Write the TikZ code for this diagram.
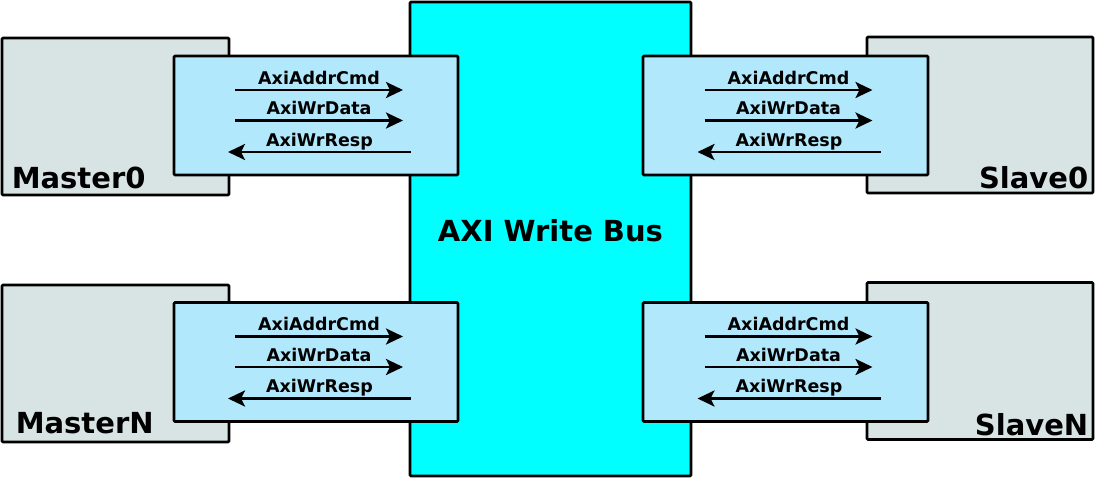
\documentclass[tikz,border=0pt]{standalone}
\usepackage{fontspec}
\setmainfont{DejaVu Sans}
\usetikzlibrary{arrows.meta}

\definecolor{hostgray}{RGB}{216,228,228}
\definecolor{portblue}{RGB}{178,232,252}
\definecolor{buscyan}{RGB}{0,255,255}

\tikzset{
  unit/.style={draw, line width=2.8pt, line join=round, rounded corners=1pt, inner sep=0pt},
  host/.style={unit, fill=hostgray},
  port/.style={unit, fill=portblue, minimum width=284, minimum height=119},
  sig/.style={line width=2.8pt, -{Stealth[length=17pt, width=16pt, inset=4pt]}},
  siglabel/.style={midway, above=4.5pt, inner sep=0pt, text depth=0pt, font=\bfseries\fontsize{17.5}{18}\selectfont},
  hostlabel/.style={inner sep=0pt, font=\bfseries\fontsize{29}{30}\selectfont}
}

\begin{document}
\begin{tikzpicture}[x=1pt, y=-1pt]
  \useasboundingbox (0,0) rectangle (1095,478);

  % hosts on both sides
  \node[host, minimum width=227, minimum height=157] (master0) at (115.5,116.5) {};
  \node[host, minimum width=227, minimum height=157] (masterN) at (115.5,363.5) {};
  \node[host, minimum width=226, minimum height=156] (slave0) at (980,115) {};
  \node[host, minimum width=226, minimum height=157] (slaveN) at (980,361) {};

  \node[hostlabel, anchor=base west] (master0txt) at ([shift={(11,-8)}]master0.south west) {Master0};
  \node[hostlabel, anchor=base west] (masterNtxt) at ([shift={(15,-10)}]masterN.south west) {MasterN};
  \node[hostlabel, anchor=base east] (slave0txt) at ([shift={(-6,-6)}]slave0.south east) {Slave0};
  \node[hostlabel, anchor=base east] (slaveNtxt) at ([shift={(-6,-5)}]slaveN.south east) {SlaveN};

  % the bus
  \node[unit, fill=buscyan, minimum width=281, minimum height=474] (bus) at (550.5,239) {};
  \node[hostlabel] (bustxt) at (550.5,231) {AXI Write Bus};

  % ports
  \node[port] (m0port) at (316,115.5) {};
  \node[port] (mNport) at (316,362) {};
  \node[port, minimum width=285] (s0port) at (785.5,115.5) {};
  \node[port, minimum width=285] (sNport) at (785.5,362) {};

  \foreach \p in {m0port, mNport, s0port, sNport} {
    \coordinate (\p-cmdA) at ([shift={(-81,-25.5)}]\p.center);
    \coordinate (\p-cmdB) at ([shift={(87,-25.5)}]\p.center);
    \coordinate (\p-datA) at ([shift={(-81,5)}]\p.center);
    \coordinate (\p-datB) at ([shift={(87,5)}]\p.center);
    \coordinate (\p-rspA) at ([shift={(95,36.5)}]\p.center);
    \coordinate (\p-rspB) at ([shift={(-88,36.5)}]\p.center);
    \draw[sig] (\p-cmdA) -- (\p-cmdB) node[siglabel] {AxiAddrCmd};
    \draw[sig] (\p-datA) -- (\p-datB) node[siglabel] {AxiWrData};
    \draw[sig] (\p-rspA) -- (\p-rspB) node[siglabel] {AxiWrResp};
  }
\end{tikzpicture}
\end{document}
